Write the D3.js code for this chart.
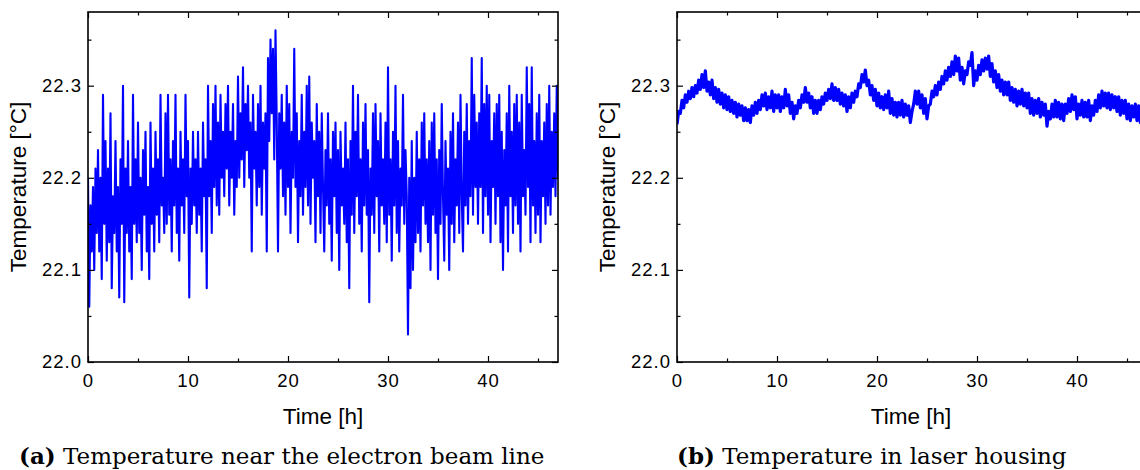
<!DOCTYPE html>
<html>
<head>
<meta charset="utf-8">
<script src="https://cdn.jsdelivr.net/npm/d3@7"></script>
<style>
  body { margin: 0; background: #fff; }
  svg { display: block; }
  .tick text { font-family: "Liberation Sans", Arial, sans-serif; font-size: 18.5px; letter-spacing: 1px; fill: #000; }
  .title { font-family: "Liberation Sans", Arial, sans-serif; font-size: 22.5px; }
  .caption { font-family: "DejaVu Serif", "Liberation Serif", serif; font-size: 23px; }
</style>
</head>
<body>
<div id="chart"></div>
<script>
// sampling interval of each logger, hours
const stepBeamH = 1 / 8;
const stepLaserH = 1 / 6;

// temperature near the electron beam line, degC (one row per hour)
const beamTemp = [
  22.20, 22.06, 22.17, 22.12, 22.19, 22.10, 22.21, 22.14,
  22.23, 22.12, 22.20, 22.09, 22.29, 22.15, 22.24, 22.11,
  22.21, 22.13, 22.27, 22.08, 22.18, 22.14, 22.24, 22.12,
  22.19, 22.07, 22.22, 22.15, 22.30, 22.065, 22.21, 22.14,
  22.24, 22.12, 22.19, 22.09, 22.29, 22.15, 22.22, 22.13,
  22.26, 22.14, 22.20, 22.10, 22.23, 22.16, 22.25, 22.12,
  22.19, 22.09, 22.26, 22.15, 22.21, 22.12, 22.25, 22.16,
  22.22, 22.13, 22.29, 22.17, 22.20, 22.14, 22.27, 22.15,
  22.29, 22.16, 22.22, 22.12, 22.24, 22.17, 22.29, 22.14,
  22.21, 22.11, 22.25, 22.17, 22.22, 22.14, 22.29, 22.18,
  22.24, 22.07, 22.21, 22.15, 22.25, 22.17, 22.22, 22.14,
  22.25, 22.16, 22.21, 22.12, 22.26, 22.18, 22.22, 22.08,
  22.30, 22.18, 22.24, 22.14, 22.28, 22.19, 22.30, 22.17,
  22.26, 22.16, 22.29, 22.20, 22.25, 22.18, 22.28, 22.21,
  22.30, 22.17, 22.25, 22.20, 22.28, 22.16, 22.24, 22.19,
  22.31, 22.20, 22.27, 22.22, 22.32, 22.19, 22.28, 22.23,
  22.30, 22.20, 22.26, 22.12, 22.29, 22.21, 22.25, 22.17,
  22.28, 22.19, 22.30, 22.16, 22.26, 22.21, 22.27, 22.12,
  22.33, 22.24, 22.35, 22.27, 22.34, 22.22, 22.36, 22.26,
  22.12, 22.27, 22.21, 22.29, 22.18, 22.26, 22.16, 22.30,
  22.19, 22.28, 22.14, 22.25, 22.20, 22.34, 22.19, 22.27,
  22.13, 22.24, 22.18, 22.29, 22.16, 22.25, 22.19, 22.30,
  22.17, 22.31, 22.15, 22.26, 22.20, 22.24, 22.13, 22.28,
  22.18, 22.25, 22.14, 22.27, 22.19, 22.12, 22.23, 22.17,
  22.27, 22.15, 22.22, 22.11, 22.25, 22.18, 22.26, 22.14,
  22.23, 22.10, 22.25, 22.17, 22.21, 22.15, 22.26, 22.13,
  22.22, 22.08, 22.24, 22.16, 22.30, 22.14, 22.25, 22.18,
  22.29, 22.15, 22.22, 22.12, 22.26, 22.17, 22.28, 22.16,
  22.23, 22.065, 22.21, 22.16, 22.27, 22.14, 22.28, 22.18,
  22.24, 22.12, 22.27, 22.17, 22.22, 22.15, 22.26, 22.13,
  22.32, 22.16, 22.22, 22.11, 22.25, 22.17, 22.30, 22.14,
  22.24, 22.12, 22.21, 22.17, 22.29, 22.15, 22.23, 22.18,
  22.03, 22.20, 22.08, 22.24, 22.10, 22.20, 22.13, 22.25,
  22.14, 22.22, 22.12, 22.26, 22.17, 22.27, 22.15, 22.22,
  22.13, 22.24, 22.10, 22.26, 22.16, 22.27, 22.14, 22.22,
  22.09, 22.23, 22.15, 22.28, 22.18, 22.11, 22.24, 22.16,
  22.21, 22.10, 22.25, 22.15, 22.27, 22.13, 22.22, 22.17,
  22.26, 22.14, 22.29, 22.18, 22.12, 22.25, 22.17, 22.28,
  22.15, 22.24, 22.18, 22.33, 22.16, 22.29, 22.19, 22.26,
  22.15, 22.27, 22.19, 22.33, 22.14, 22.28, 22.18, 22.30,
  22.16, 22.29, 22.13, 22.24, 22.19, 22.27, 22.15, 22.28,
  22.18, 22.29, 22.13, 22.25, 22.10, 22.23, 22.17, 22.27,
  22.12, 22.30, 22.18, 22.25, 22.14, 22.28, 22.17, 22.29,
  22.15, 22.26, 22.12, 22.29, 22.18, 22.23, 22.16, 22.32,
  22.19, 22.28, 22.13, 22.32, 22.17, 22.24, 22.14, 22.27,
  22.16, 22.29, 22.13, 22.24, 22.18, 22.26, 22.15, 22.28,
  22.17, 22.30, 22.16, 22.25, 22.19, 22.27, 22.18, 22.30,
  22.20
];

// temperature in laser housing, degC (one row per hour)
const laserTemp = [
  22.258, 22.272, 22.270, 22.284, 22.276, 22.290,
  22.282, 22.294, 22.286, 22.298, 22.288, 22.300,
  22.292, 22.306, 22.296, 22.312, 22.298, 22.316,
  22.294, 22.304, 22.290, 22.306, 22.286, 22.298,
  22.282, 22.296, 22.280, 22.292, 22.276, 22.290,
  22.274, 22.288, 22.272, 22.284, 22.270, 22.282,
  22.266, 22.280, 22.268, 22.278, 22.262, 22.276,
  22.262, 22.274, 22.260, 22.278, 22.268, 22.282,
  22.270, 22.284, 22.274, 22.290, 22.278, 22.292,
  22.274, 22.288, 22.276, 22.294, 22.272, 22.290,
  22.276, 22.290, 22.272, 22.288, 22.276, 22.296,
  22.278, 22.290, 22.270, 22.282, 22.264, 22.278,
  22.270, 22.284, 22.276, 22.290, 22.282, 22.298,
  22.282, 22.292, 22.276, 22.288, 22.270, 22.284,
  22.270, 22.284, 22.274, 22.288, 22.280, 22.292,
  22.284, 22.296, 22.286, 22.302, 22.284, 22.298,
  22.284, 22.296, 22.280, 22.292, 22.278, 22.290,
  22.272, 22.288, 22.276, 22.292, 22.282, 22.294,
  22.288, 22.302, 22.298, 22.312, 22.304, 22.317,
  22.300, 22.306, 22.290, 22.300, 22.284, 22.296,
  22.278, 22.292, 22.276, 22.288, 22.274, 22.290,
  22.276, 22.294, 22.270, 22.286, 22.268, 22.282,
  22.266, 22.282, 22.268, 22.284, 22.266, 22.280,
  22.268, 22.278, 22.260, 22.272, 22.280, 22.294,
  22.280, 22.294, 22.276, 22.290, 22.270, 22.286,
  22.264, 22.278, 22.280, 22.294, 22.288, 22.300,
  22.290, 22.304, 22.296, 22.310, 22.302, 22.316,
  22.306, 22.320, 22.310, 22.326, 22.312, 22.332,
  22.316, 22.330, 22.306, 22.320, 22.302, 22.316,
  22.312, 22.326, 22.322, 22.336, 22.300, 22.316,
  22.306, 22.322, 22.312, 22.328, 22.316, 22.330,
  22.318, 22.332, 22.310, 22.324, 22.304, 22.316,
  22.298, 22.312, 22.294, 22.306, 22.290, 22.304,
  22.290, 22.304, 22.284, 22.298, 22.282, 22.296,
  22.278, 22.294, 22.280, 22.296, 22.278, 22.292,
  22.276, 22.292, 22.270, 22.286, 22.268, 22.284,
  22.270, 22.286, 22.266, 22.282, 22.268, 22.280,
  22.256, 22.272, 22.264, 22.280, 22.266, 22.284,
  22.266, 22.282, 22.264, 22.280, 22.262, 22.280,
  22.270, 22.286, 22.272, 22.290, 22.274, 22.288,
  22.264, 22.280, 22.268, 22.284, 22.266, 22.282,
  22.266, 22.284, 22.262, 22.278, 22.268, 22.284,
  22.272, 22.290, 22.276, 22.294, 22.278, 22.292,
  22.276, 22.292, 22.274, 22.290, 22.276, 22.288,
  22.272, 22.288, 22.268, 22.284, 22.270, 22.284,
  22.264, 22.280, 22.262, 22.278, 22.266, 22.280,
  22.262, 22.278, 22.260, 22.276, 22.264, 22.278,
  22.268
];

const xTicks = [0, 10, 20, 30, 40];
const xMinor = [5, 15, 25, 35, 45];
const yTicks = [22.0, 22.1, 22.2, 22.3];
const yMinor = [22.05, 22.15, 22.25, 22.35];

const panels = [
  { id: "a", caption: "Temperature near the electron beam line", values: beamTemp, step: stepBeamH, left: 88, titleX: 323, capX: 19 },
  { id: "b", caption: "Temperature in laser housing", values: laserTemp, step: stepLaserH, left: 677, titleX: 911, capX: 677 }
];

const width = 1140, height = 470;
const plotW = 470, plotTop = 12, plotBottom = 362;

const svg = d3.select("#chart").append("svg")
  .attr("width", width)
  .attr("height", height);

panels.forEach((p, k) => {
  const x = d3.scaleLinear().domain([0, 47]).range([p.left, p.left + plotW]);
  const y = d3.scaleLinear().domain([22.0, 22.38]).range([plotBottom, plotTop]);

  const g = svg.append("g");

  g.append("clipPath").attr("id", "clip" + k)
    .append("rect")
    .attr("x", p.left).attr("y", plotTop)
    .attr("width", plotW).attr("height", plotBottom - plotTop);

  const line = d3.line()
    .x((d, i) => x(i * p.step))
    .y(d => y(d));

  g.append("path")
    .datum(p.values)
    .attr("clip-path", `url(#clip${k})`)
    .attr("fill", "none")
    .attr("stroke", "#0000ff")
    .attr("stroke-width", k === 0 ? 2.1 : 3.2)
    .attr("stroke-linejoin", "round")
    .attr("d", line);

  // axes, ticks pointing inward
  g.append("g").attr("transform", `translate(0,${plotBottom})`)
    .call(d3.axisBottom(x).tickValues(xTicks).tickSizeInner(-6).tickSizeOuter(0).tickPadding(12).tickFormat(d3.format("d")));
  g.append("g").attr("transform", `translate(0,${plotBottom})`)
    .call(d3.axisBottom(x).tickValues(xMinor).tickSizeInner(-3.5).tickSizeOuter(0).tickFormat(""));
  g.append("g").attr("transform", `translate(0,${plotTop})`)
    .call(d3.axisTop(x).tickValues(xTicks).tickSizeInner(-6).tickSizeOuter(0).tickFormat(""));
  g.append("g").attr("transform", `translate(0,${plotTop})`)
    .call(d3.axisTop(x).tickValues(xMinor).tickSizeInner(-3.5).tickSizeOuter(0).tickFormat(""));

  g.append("g").attr("transform", `translate(${p.left},0)`)
    .call(d3.axisLeft(y).tickValues(yTicks).tickSizeInner(-6).tickSizeOuter(0).tickPadding(6).tickFormat(d3.format(".1f")));
  g.append("g").attr("transform", `translate(${p.left},0)`)
    .call(d3.axisLeft(y).tickValues(yMinor).tickSizeInner(-3.5).tickSizeOuter(0).tickFormat(""));
  g.append("g").attr("transform", `translate(${p.left + plotW},0)`)
    .call(d3.axisRight(y).tickValues(yTicks).tickSizeInner(-6).tickSizeOuter(0).tickFormat(""));
  g.append("g").attr("transform", `translate(${p.left + plotW},0)`)
    .call(d3.axisRight(y).tickValues(yMinor).tickSizeInner(-3.5).tickSizeOuter(0).tickFormat(""));

  g.selectAll(".domain").remove();
  g.selectAll(".tick line").attr("stroke", "#000").attr("stroke-width", 1.2);

  g.append("rect")
    .attr("x", p.left).attr("y", plotTop)
    .attr("width", plotW).attr("height", plotBottom - plotTop)
    .attr("fill", "none")
    .attr("stroke", "#000")
    .attr("stroke-width", 1.6);

  // axis titles
  g.append("text")
    .attr("class", "title")
    .attr("x", p.titleX)
    .attr("y", 424)
    .attr("text-anchor", "middle")
    .text("Time [h]");

  g.append("text")
    .attr("class", "title")
    .attr("transform", `translate(${p.left - 62},${(plotTop + plotBottom) / 2}) rotate(-90)`)
    .attr("text-anchor", "middle")
    .text("Temperature [°C]");

  // caption
  const cap = g.append("text")
    .attr("class", "caption")
    .attr("x", p.capX)
    .attr("y", 464);
  cap.append("tspan").style("font-weight", "bold").text(`(${p.id})`);
  cap.append("tspan").text(" " + p.caption);
});
</script>
</body>
</html>
